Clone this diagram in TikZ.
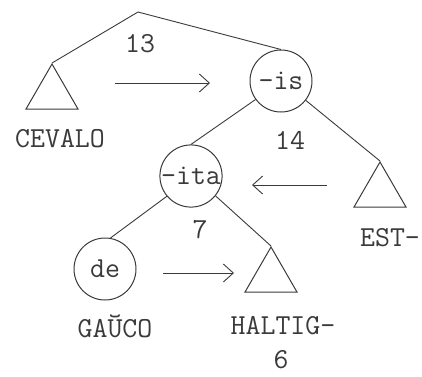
\documentclass[tikz,border=0pt]{standalone}
\usepackage{fontspec}
\usetikzlibrary{arrows.meta,shapes.geometric}

\begin{document}
\begin{tikzpicture}[x=1pt, y=-1pt]

% =======================================================
% Colour and styles
% =======================================================
\definecolor{ink}{HTML}{3A3A3A}

\tikzset{
  txt/.style   = {ink, font=\ttfamily\fontsize{29}{31}\selectfont, inner sep=0},
  morph/.style = {txt, draw=ink, circle, line width=1pt, minimum size=62},
  stem/.style  = {draw=ink, regular polygon, regular polygon sides=3,
                  minimum size=60, inner sep=0, line width=1pt},
  branch/.style  = {ink, line width=0.9pt},
  moveto/.style = {ink, line width=0.9pt, -{Straight Barb[length=10pt, width=18pt]}},
}

\useasboundingbox (0,0) rectangle (422,376);

% =======================================================
% Tree nodes
% =======================================================
\coordinate (root) at (138,12);

\node[morph] (is)  at (281,81)  {-is};
\node[morph] (ita) at (191,176) {-ita};
\node[morph] (de)  at (105,269) {de};

\node[stem] (cevalo) at (52,94)   {};
\node[stem] (est)    at (380,192) {};
\node[stem] (haltig) at (271,277) {};

% leaf words
\node[txt] (wCevalo) at (60,139)  {CEVALO};
\node[txt] (wEst)    at (390,238) {EST-};
\node[txt] (wGauco)  at (115,326) {GAŬCO};
\node[txt] (wHaltig) at (283,326) {HALTIG-};

% numbers
\node[txt] (n13) at (140,44)  {13};
\node[txt] (n14) at (290,140) {14};
\node[txt] (n7)  at (200,230) {7};
\node[txt] (n6)  at (281,360) {6};

% =======================================================
% Branches
% =======================================================
\draw[branch] (root) -- (cevalo.corner 1);
\draw[branch] (root) -- (is.north);
\draw[branch] (is.216) -- (ita.north);
\draw[branch] (is.-38) -- (est.corner 1);
\draw[branch] (ita.220) -- (de.80);
\draw[branch] (ita.-39) -- (haltig.corner 1);

% =======================================================
% Arrows between sisters
% =======================================================
\coordinate (a1) at (115,83);  \coordinate (b1) at (210,83);
\coordinate (a2) at (327,185); \coordinate (b2) at (252,185);
\coordinate (a3) at (163,273); \coordinate (b3) at (234,273);

\draw[moveto] (a1) -- (b1);
\draw[moveto] (a2) -- (b2);
\draw[moveto] (a3) -- (b3);

\end{tikzpicture}
\end{document}
